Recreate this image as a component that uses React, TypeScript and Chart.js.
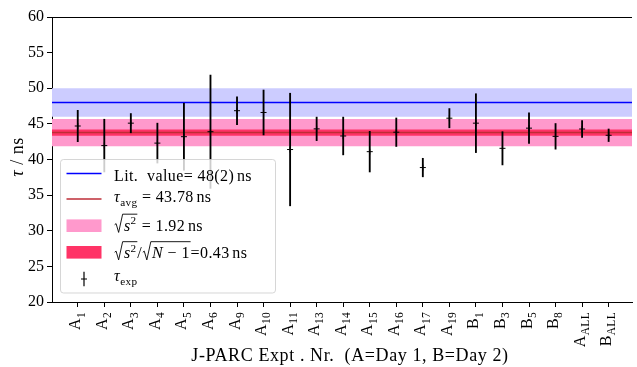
import React, { useEffect, useRef } from "react";
import { Chart, registerables } from "chart.js";

Chart.register(...registerables);

// ---------- data ----------
const categories = [
  "A_1", "A_2", "A_3", "A_4", "A_5", "A_6", "A_9", "A_10", "A_11", "A_13", "A_14",
  "A_15", "A_16", "A_17", "A_19", "B_1", "B_3", "B_5", "B_8", "A_ALL", "B_ALL",
];
const tauValues = [
  44.7, 41.95, 45.1, 42.3, 43.2, 43.9, 46.85, 46.6, 41.4, 44.3, 43.3,
  41.1, 43.83, 38.87, 45.8, 45.1, 41.57, 44.4, 43.25, 44.28, 43.4,
];
const tauErrors = [
  2.2, 3.7, 1.35, 2.8, 4.7, 7.95, 1.95, 3.15, 7.9, 1.65, 2.65,
  2.85, 2.0, 1.3, 1.35, 4.13, 2.33, 2.15, 1.8, 1.18, 0.88,
];
const litValue = 48;
const litError = 2;
const avgValue = 43.78;
const sampleSd = 1.92;
const sdOfMean = 0.43;
const yTicks = [20, 25, 30, 35, 40, 45, 50, 55, 60];
const xRange = [-0.97, 20.88];

// ---------- styling ----------
const SERIF = '"Liberation Serif", "DejaVu Serif", serif';
const BLUE_BAND = "#ccccff";
const PINK_BAND = "#ff99cc";
const RED_BAND = "#ff3366";
const AVG_LINE = "rgb(190,45,55)";
const LIT_LINE = "#0000ff";

type Seg =
  | { t: string; it?: boolean; sc?: number; dy?: number }
  | { sqrt: Seg[] }
  | { sp: number };

const fontOf = (it: boolean | undefined, size: number) =>
  `${it ? "italic " : ""}${size}px ${SERIF}`;

function measure(ctx: CanvasRenderingContext2D, segs: Seg[], base: number): number {
  let w = 0;
  for (const s of segs) {
    if ("sp" in s) w += s.sp * base;
    else if ("sqrt" in s) w += base * 0.62 + measure(ctx, s.sqrt, base) + base * 0.05;
    else {
      ctx.font = fontOf(s.it, base * (s.sc || 1));
      w += ctx.measureText(s.t).width;
    }
  }
  return w;
}

function drawRich(ctx: CanvasRenderingContext2D, segs: Seg[], x: number, y: number, base: number): number {
  ctx.textAlign = "left";
  ctx.textBaseline = "alphabetic";
  for (const s of segs) {
    if ("sp" in s) {
      x += s.sp * base;
    } else if ("sqrt" in s) {
      const inner = measure(ctx, s.sqrt, base);
      const r = base * 0.62;
      const top = y - base * 1.02;
      ctx.save();
      ctx.beginPath();
      ctx.lineWidth = 0.9;
      ctx.strokeStyle = "#000";
      ctx.moveTo(x + base * 0.04, y - base * 0.36);
      ctx.lineTo(x + base * 0.13, y - base * 0.43);
      ctx.lineTo(x + base * 0.29, y + base * 0.12);
      ctx.lineTo(x + base * 0.54, top);
      ctx.lineTo(x + r + inner + base * 0.05, top);
      ctx.stroke();
      ctx.restore();
      drawRich(ctx, s.sqrt, x + r, y, base);
      x += r + inner + base * 0.05;
    } else {
      ctx.font = fontOf(s.it, base * (s.sc || 1));
      ctx.fillText(s.t, x, y + (s.dy || 0) * base);
      x += ctx.measureText(s.t).width;
    }
  }
  return x;
}

const sSq: Seg = { sqrt: [{ t: "s", it: true }, { t: "2", sc: 0.7, dy: -0.4 }] };
const legendRows: { kind: string; color: string; segs: Seg[]; cy: number; by: number }[] = [
  { kind: "line", color: LIT_LINE, cy: 173.5, by: 181, segs: [{ t: "Lit.  value= 48(2)" }, { sp: 0.17 }, { t: "ns" }] },
  { kind: "line", color: AVG_LINE, cy: 199, by: 202, segs: [{ t: "τ", it: true }, { t: "avg", sc: 0.7, dy: 0.22 }, { t: " = 43.78" }, { sp: 0.17 }, { t: "ns" }] },
  { kind: "patch", color: PINK_BAND, cy: 225.7, by: 230.5, segs: [sSq, { t: " = 1.92" }, { sp: 0.17 }, { t: "ns" }] },
  { kind: "patch", color: RED_BAND, cy: 252.3, by: 258, segs: [sSq, { t: "/" }, { sqrt: [{ t: "N", it: true }, { t: " − 1" }] }, { t: "=0.43" }, { sp: 0.17 }, { t: "ns" }] },
  { kind: "err", color: "#000", cy: 279, by: 281, segs: [{ t: "τ", it: true }, { t: "exp", sc: 0.7, dy: 0.22 }] },
];

const decorPlugin = {
  id: "decor",
  afterDraw(chart: any) {
    const ctx: any = chart.ctx;
    const area = chart.chartArea;
    const xs = chart.scales.x;
    ctx.save();
    // top spine
    ctx.strokeStyle = "#000";
    ctx.lineWidth = 1;
    ctx.beginPath();
    ctx.moveTo(area.left, Math.round(area.top) + 0.5);
    ctx.lineTo(area.right, Math.round(area.top) + 0.5);
    ctx.stroke();

    // x tick labels (rotated, with subscripts)
    ctx.fillStyle = "#000";
    ctx.letterSpacing = "0.3px";
    categories.forEach((cat, i) => {
      const [main, sub] = cat.split("_");
      const px = xs.getPixelForValue(i);
      const segs: Seg[] = [{ t: main }, { t: sub, sc: 0.72, dy: 0.27 }];
      const w = measure(ctx, segs, 16);
      ctx.save();
      ctx.translate(px + 2.5, 312);
      ctx.rotate(-Math.PI / 2);
      drawRich(ctx, segs, -w, 0, 16);
      ctx.restore();
    });

    // x title
    ctx.letterSpacing = "0.6px";
    const titleSegs: Seg[] = [{ t: "J-PARC Expt . Nr.  (A=Day 1, B=Day 2)" }];
    const tw = measure(ctx, titleSegs, 18);
    drawRich(ctx, titleSegs, 350 - tw / 2, 361, 18);

    // y title
    ctx.letterSpacing = "0.5px";
    const ySegs: Seg[] = [{ t: "τ", it: true }, { t: " / ns" }];
    const yw = measure(ctx, ySegs, 18);
    ctx.save();
    ctx.translate(23, 157);
    ctx.rotate(-Math.PI / 2);
    drawRich(ctx, ySegs, -yw / 2, 0, 18);
    ctx.restore();

    // legend
    ctx.letterSpacing = "0px";
    const lx = 60.5, ly = 159.5, lw = 215, lh = 133.5, rr = 3;
    ctx.beginPath();
    ctx.moveTo(lx + rr, ly);
    ctx.lineTo(lx + lw - rr, ly);
    ctx.quadraticCurveTo(lx + lw, ly, lx + lw, ly + rr);
    ctx.lineTo(lx + lw, ly + lh - rr);
    ctx.quadraticCurveTo(lx + lw, ly + lh, lx + lw - rr, ly + lh);
    ctx.lineTo(lx + rr, ly + lh);
    ctx.quadraticCurveTo(lx, ly + lh, lx, ly + lh - rr);
    ctx.lineTo(lx, ly + rr);
    ctx.quadraticCurveTo(lx, ly, lx + rr, ly);
    ctx.closePath();
    ctx.fillStyle = "rgba(255,255,255,0.8)";
    ctx.fill();
    ctx.strokeStyle = "rgba(204,204,204,0.8)";
    ctx.lineWidth = 1;
    ctx.stroke();

    for (const row of legendRows) {
      if (row.kind === "line") {
        ctx.strokeStyle = row.color;
        ctx.lineWidth = 1.5;
        ctx.beginPath();
        ctx.moveTo(66.5, row.cy);
        ctx.lineTo(101.5, row.cy);
        ctx.stroke();
      } else if (row.kind === "patch") {
        ctx.fillStyle = row.color;
        ctx.fillRect(66.5, row.cy - 6.3, 35, 12.6);
      } else {
        ctx.strokeStyle = "#000";
        ctx.lineWidth = 1.2;
        ctx.beginPath();
        ctx.moveTo(84, row.cy - 7.2);
        ctx.lineTo(84, row.cy + 7.2);
        ctx.moveTo(81, row.cy);
        ctx.lineTo(87, row.cy);
        ctx.stroke();
      }
      ctx.fillStyle = "#000";
      ctx.letterSpacing = "0.4px";
      drawRich(ctx, row.segs, 114, row.by, 16);
    }
    ctx.letterSpacing = "0px";
    ctx.restore();
  },
};

function bandPair(center: number, half: number, color: string, order: number) {
  return [
    {
      type: "line",
      data: [{ x: xRange[0] - 1, y: center + half }, { x: xRange[1] + 1, y: center + half }],
      borderColor: "transparent",
      borderWidth: 0,
      pointRadius: 0,
      backgroundColor: color,
      fill: "+1",
      order,
    },
    {
      type: "line",
      data: [{ x: xRange[0] - 1, y: center - half }, { x: xRange[1] + 1, y: center - half }],
      borderColor: "transparent",
      borderWidth: 0,
      pointRadius: 0,
      fill: false,
      order: order + 1,
    },
  ];
}

export default function App() {
  const ref = useRef<HTMLCanvasElement | null>(null);
  useEffect(() => {
    if (!ref.current) return;
    const datasets: any[] = [
      {
        type: "scatter",
        data: tauValues.map((v, i) => ({ x: i, y: v })),
        pointStyle: "cross",
        pointRadius: 3,
        borderColor: "#000",
        borderWidth: 1,
        order: 0,
      },
      {
        type: "bar",
        data: tauValues.map((v, i) => ({ x: i, y: [v - tauErrors[i], v + tauErrors[i]] })),
        backgroundColor: "#000",
        borderWidth: 0,
        barThickness: 1.2,
        order: 1,
      },
      {
        type: "line",
        data: [{ x: xRange[0] - 1, y: litValue }, { x: xRange[1] + 1, y: litValue }],
        borderColor: LIT_LINE,
        borderWidth: 1.5,
        pointRadius: 0,
        fill: false,
        order: 2,
      },
      {
        type: "line",
        data: [{ x: xRange[0] - 1, y: avgValue }, { x: xRange[1] + 1, y: avgValue }],
        borderColor: AVG_LINE,
        borderWidth: 1.5,
        pointRadius: 0,
        fill: false,
        order: 3,
      },
      ...bandPair(avgValue, sdOfMean, RED_BAND, 4),
      ...bandPair(avgValue, sampleSd, PINK_BAND, 6),
      ...bandPair(litValue, litError, BLUE_BAND, 8),
    ];
    const chart = new Chart(ref.current, {
      type: "line",
      data: { datasets },
      plugins: [decorPlugin],
      options: {
        animation: false,
        responsive: false,
        events: [],
        layout: { padding: { top: 17, left: 0, right: 0, bottom: 0 } },
        plugins: { legend: { display: false }, tooltip: { enabled: false } },
        scales: {
          x: {
            type: "linear",
            min: xRange[0],
            max: xRange[1],
            offset: false,
            afterBuildTicks: (s: any) => {
              s.ticks = categories.map((_, i) => ({ value: i }));
            },
            afterFit: (s: any) => {
              s.height = 65;
            },
            ticks: { display: false },
            grid: { display: true, offset: false, drawOnChartArea: false, drawTicks: true, tickLength: 5, color: "#000", lineWidth: 1 },
            border: { display: true, color: "#000", width: 1 },
          },
          y: {
            type: "linear",
            min: yTicks[0],
            max: yTicks[yTicks.length - 1],
            afterBuildTicks: (s: any) => {
              s.ticks = yTicks.map((v) => ({ value: v }));
            },
            afterFit: (s: any) => {
              s.width = 52;
            },
            ticks: { color: "#000", font: { family: SERIF, size: 16 }, padding: 3 },
            grid: { display: true, offset: false, drawOnChartArea: false, drawTicks: true, tickLength: 5, color: "#000", lineWidth: 1 },
            border: { display: true, color: "#000", width: 1 },
          },
        },
      },
    });
    return () => chart.destroy();
  }, []);
  return (
    <div style={{ position: "fixed", left: 0, top: 0, width: 637, height: 367, background: "#fff" }}>
      <canvas ref={ref} width={637} height={367} style={{ width: 637, height: 367 }} />
    </div>
  );
}
